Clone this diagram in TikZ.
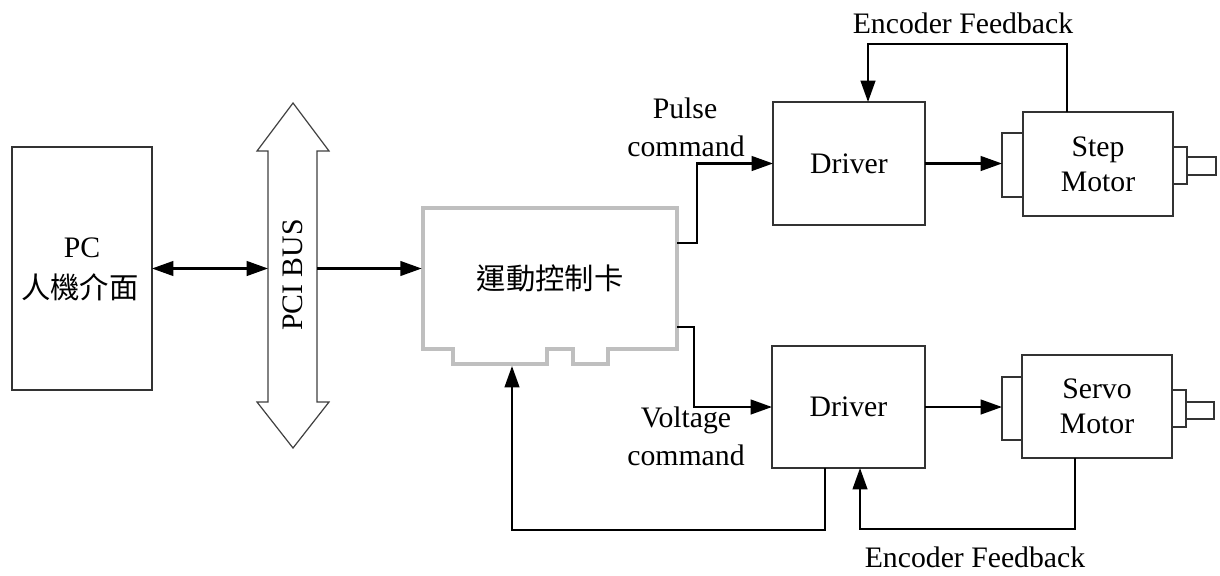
\documentclass[tikz,border=0pt]{standalone}
\usepackage{fontspec}
\setmainfont{Liberation Serif}
\newfontfamily\cjk{Noto Sans CJK TC}
\usetikzlibrary{arrows.meta}
% one drawing unit = one pixel row/column
\newcommand{\pxl}[1]{#1*0.75pt}
\tikzset{
  box/.style={draw=black!80, line width=1pt, inner sep=0pt, outer sep=0pt},
  wire/.style={line width=1.6pt, black},
  tip/.style={-{Triangle[length=16pt,width=11pt]}},
  twotip/.style={{Triangle[length=16pt,width=11pt]}-{Triangle[length=16pt,width=11pt]}},
  lbl/.style={inner sep=0pt, font=\fontsize{22.3}{26.3}\selectfont},
  cjklbl/.style={inner sep=0pt, font=\cjk\fontsize{22}{26}\selectfont},
  ghost/.style={inner sep=0pt, outer sep=0pt},
}
\begin{document}
\begin{tikzpicture}[x=0.75pt,y=-0.75pt]
\useasboundingbox (0,0) rectangle (1220,575);
\fill[white] (0,0) rectangle (1220,575);

% PC
\node[box, minimum width=\pxl{140}, minimum height=\pxl{243}] (pc) at (82,268.5) {};
\node[lbl] (pctxt) at (82,248) {PC};
\node[cjklbl] (pccjk) at (80,287) {人機介面};

% PCI bus (double block arrow)
\draw[draw=black!75, line width=0.9pt, line join=miter]
  (293,103) -- (329,151) -- (317,151) -- (317,402) -- (329,402) -- (293,448)
  -- (257,402) -- (268,402) -- (268,151) -- (257,151) -- cycle;
\node[ghost, minimum width=\pxl{49}, minimum height=\pxl{251}] (bus) at (292.5,276.5) {};
\node[lbl, rotate=90] (bustxt) at (293,275) {PCI BUS};

% motion control card with edge connector
\draw[draw=black!25, line width=2.4pt, line join=miter]
  (423,208) -- (677,208) -- (677,349) -- (608,349) -- (608,364) -- (573,364)
  -- (573,349) -- (547,349) -- (547,364) -- (453,364) -- (453,349) -- (423,349) -- cycle;
\node[ghost, minimum width=\pxl{254}, minimum height=\pxl{141}] (card) at (550,278.5) {};
\node[cjklbl] (cardtxt) at (550,278) {運動控制卡};
\coordinate (pulseout) at (677,243);
\coordinate (voltout) at (677,327);
\coordinate (cardpin) at (512,366);

% drivers
\node[box, lbl, minimum width=\pxl{152}, minimum height=\pxl{123}] (drv1) at (849,163.5) {Driver};
\node[box, lbl, minimum width=\pxl{153}, minimum height=\pxl{122}] (drv2) at (848.5,407) {Driver};

% step motor
\node[box, lbl, align=center, minimum width=\pxl{150}, minimum height=\pxl{104}] (step) at (1098,164) {Step\\Motor};
\node[box, minimum width=\pxl{21}, minimum height=\pxl{64}] (sfl) at (1012.5,165) {};
\node[box, minimum width=\pxl{14}, minimum height=\pxl{37}] (sring) at (1180,165.5) {};
\node[box, minimum width=\pxl{29}, minimum height=\pxl{18}] (sshaft) at (1201.5,166) {};

% servo motor
\node[box, lbl, align=center, minimum width=\pxl{150}, minimum height=\pxl{103}] (servo) at (1097,406.5) {Servo\\Motor};
\node[box, minimum width=\pxl{20}, minimum height=\pxl{63}] (vfl) at (1012,408.5) {};
\node[box, minimum width=\pxl{14}, minimum height=\pxl{37}] (vring) at (1179,408.5) {};
\node[box, minimum width=\pxl{28}, minimum height=\pxl{17}] (vshaft) at (1200,410.5) {};

% connections
\draw[wire, twotip] (pc.east) -- (pc.east -| bus.west);
\draw[wire, tip] (bus.east |- pc.east) -- ([xshift=-1pt]card.west |- pc.east);
\draw[wire, tip] (pulseout) -- (697,243) |- (drv1.west);
\draw[wire, tip] (voltout) -- (694,327) |- (drv2.west);
\draw[wire, tip] (drv1.east) -- (drv1.east -| sfl.west);
\draw[wire, tip] (drv2.east) -- (drv2.east -| vfl.west);
\draw[wire, tip] (step.north -| 1067,0) |- (868,44) -- (drv1.north -| 868,0);
\draw[wire, tip] (servo.south -| 1075,0) |- (860,529) -- (drv2.south -| 860,0);
\draw[wire, tip] (drv2.south -| 825,0) |- (512,530) -- (cardpin);

% labels
\node[lbl] (pulse) at (685,108) {Pulse};
\node[lbl] (pcmd) at (686,146) {command};
\node[lbl] (volt) at (686,420) {Voltage};
\node[lbl] (vcmd) at (686,455) {command};
\node[lbl] (enctop) at (963,23) {Encoder Feedback};
\node[lbl] (encbot) at (975,557) {Encoder Feedback};
\end{tikzpicture}
\end{document}
